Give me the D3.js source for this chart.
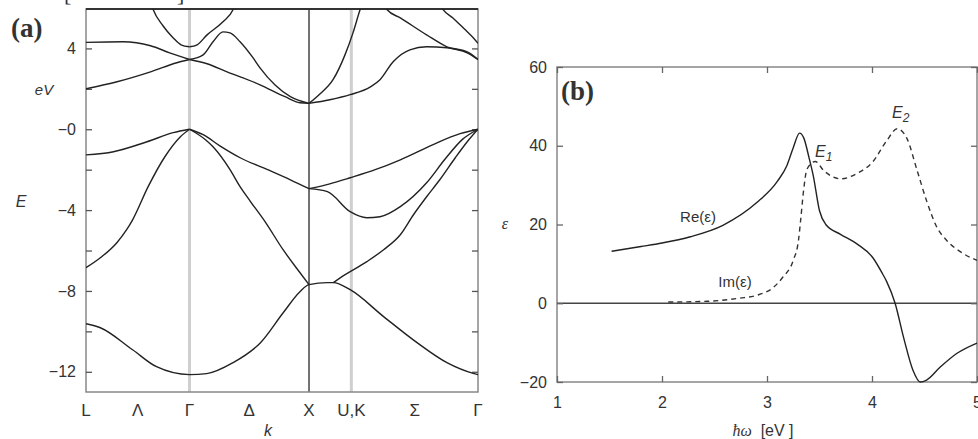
<!DOCTYPE html>
<html>
<head>
<meta charset="utf-8">
<script src="https://cdn.jsdelivr.net/npm/d3@7"></script>
<style>
  body { margin: 0; background: #fff; }
  text { font-family: "Liberation Sans", Arial, sans-serif; fill: #333; }
</style>
</head>
<body>
<svg id="chart" width="978" height="439"></svg>
<script>
(function(d3) {
  'use strict';

  // ---- panel (a): band structure, k along L-Γ-X-U,K-Γ (units of 2π/a) ----
  var kPoints = [0, 0.866, 1.866, 2.22, 3.28];
  var kLabels = ['L', 'Γ', 'X', 'U,K', 'Γ'];
  var dirLabels = [['Λ', 0, 1], ['Δ', 1, 2], ['Σ', 3, 4]];
  var energyTicks = [4, 2, 0, -2, -4, -6, -8, -10, -12];
  var energyLabels = { '4': '4', '0': '−0', '-4': '−4', '-8': '−8', '-12': '−12' };

  // valence bands
  var bandV1 = [[0, -9.62], [0.12, -9.82], [0.39, -10.91], [0.59, -11.75], [0.866, -12.14],
    [1.01, -12.09], [1.23, -11.55], [1.46, -10.56], [1.65, -9.08], [1.79, -8.04], [1.866, -7.69],
    [2.02, -7.59], [2.07, -7.59], [2.21, -7.94], [2.49, -9.27], [2.77, -10.56], [3.02, -11.55],
    [3.24, -12.08], [3.28, -12.14]];
  var bandV2L = [[0, -6.85], [0.12, -6.36], [0.26, -5.6], [0.34, -4.97], [0.39, -4.48],
    [0.52, -2.84], [0.66, -1.36], [0.79, -0.37], [0.866, 0]];
  var bandV3L = [[0, -1.27], [0.23, -1.11], [0.51, -0.62], [0.73, -0.17], [0.866, 0]];
  var bandV2D = [[0.866, 0], [1.0, -0.52], [1.063, -0.87], [1.205, -2.0], [1.289, -2.84],
    [1.372, -3.54], [1.498, -4.57], [1.649, -5.96], [1.791, -7.1], [1.866, -7.69]];
  var bandV3D = [[0.866, 0], [0.98, -0.27], [1.12, -0.82], [1.29, -1.41], [1.52, -2.0],
    [1.71, -2.5], [1.866, -2.94]];
  var bandV2S = [[2.07, -7.59], [2.13, -7.34], [2.35, -6.55], [2.49, -5.96], [2.63, -5.22],
    [2.74, -4.23], [2.85, -3.34], [2.96, -2.5], [3.09, -1.41], [3.19, -0.62], [3.28, 0]];
  var bandV3S = [[1.866, -2.94], [2.02, -3.09], [2.21, -4.08], [2.35, -4.38], [2.46, -4.33],
    [2.63, -3.83], [2.85, -2.65], [3.0, -1.51], [3.15, -0.5], [3.28, 0]];
  var bandV4S = [[1.866, -2.94], [2.04, -2.7], [2.21, -2.4], [2.42, -2.0], [2.63, -1.51],
    [2.9, -0.77], [3.13, -0.22], [3.28, 0]];

  // conduction bands
  var bandC1L = [[0, 2.0], [0.26, 2.35], [0.54, 2.84], [0.76, 3.29], [0.866, 3.45]];
  var bandC2L = [[0, 4.3], [0.31, 4.33], [0.54, 4.13], [0.7, 3.78], [0.866, 3.45]];
  var bandC3L = [[0.54, 6.3], [0.56, 5.95], [0.644, 5.12], [0.728, 4.53], [0.795, 4.18], [0.866, 4.08]];
  var bandC1D = [[0.866, 3.45], [1.013, 3.24], [1.18, 2.84], [1.456, 2.2], [1.665, 1.61],
    [1.79, 1.31], [1.866, 1.28]];
  var bandC2D = [[0.866, 3.45], [0.98, 3.68], [1.063, 4.33], [1.146, 4.82], [1.205, 4.77],
    [1.289, 4.33], [1.397, 3.54], [1.456, 3.04], [1.58, 2.2], [1.71, 1.61], [1.866, 1.28]];
  var bandC3D = [[0.866, 4.08], [0.93, 4.18], [1.013, 4.67], [1.146, 5.32], [1.23, 5.91], [1.25, 6.2]];
  var bandC1S = [[1.866, 1.28], [1.95, 1.71], [2.067, 2.45], [2.167, 3.68], [2.234, 4.77],
    [2.293, 5.91], [2.31, 6.2]];
  var bandC2S = [[1.866, 1.28], [2.04, 1.46], [2.21, 1.71], [2.38, 2.1], [2.46, 2.45],
    [2.57, 3.34], [2.71, 3.93], [2.85, 4.08], [3.02, 4.03], [3.19, 3.83], [3.28, 3.45]];
  var bandC3S = [[2.5, 6.2], [2.52, 5.91], [2.63, 5.51], [2.85, 4.67], [3.02, 4.08],
    [3.19, 3.78], [3.28, 3.45]];
  var bandC4S = [[2.96, 6.2], [2.99, 5.91], [3.07, 5.51], [3.13, 5.17], [3.19, 4.82],
    [3.24, 4.53], [3.28, 4.25]];

  var bands = [bandV1, bandV2L, bandV3L, bandV2D, bandV3D, bandV2S, bandV3S, bandV4S,
    bandC1L, bandC2L, bandC3L, bandC1D, bandC2D, bandC3D, bandC1S, bandC2S, bandC3S, bandC4S];

  // ---- panel (b): dielectric function vs photon energy ----
  var energyTicksB = [1, 2, 3, 4, 5];
  var epsTicks = [60, 40, 20, 0, -20];
  var reEps = [[1.52, 13.2], [1.8, 14.4], [2.0, 15.3], [2.27, 16.9], [2.58, 19.8], [2.9, 25.5],
    [3.1, 31], [3.19, 35], [3.25, 39.5], [3.31, 43.2], [3.35, 42], [3.4, 37], [3.44, 32.5],
    [3.5, 23.5], [3.56, 20], [3.7, 17.5], [3.86, 15], [4.01, 11.5], [4.1, 7.5], [4.14, 5.5],
    [4.22, 0], [4.3, -8.6], [4.39, -17], [4.46, -20], [4.52, -19.5], [4.65, -16.2],
    [4.81, -12.7], [5.0, -10.1]];
  var imEps = [[2.06, 0.3], [2.43, 0.5], [2.74, 1.3], [2.9, 2], [3.06, 4], [3.15, 6.6],
    [3.25, 10.9], [3.3, 16], [3.32, 21], [3.35, 29], [3.38, 34], [3.46, 36], [3.54, 33.7],
    [3.7, 31.6], [3.86, 33], [4.01, 36], [4.14, 41.3], [4.24, 44.3], [4.33, 42], [4.43, 33.7],
    [4.52, 26], [4.62, 19.2], [4.71, 16], [4.87, 12.6], [5.0, 10.9]];

  var svg = d3.select('#chart');
  svg.append('rect').attr('width', 978).attr('height', 439).attr('fill', '#fff');

  // ================= panel (a) =================
  var xA = d3.scaleLinear().domain([0, 3.28]).range([86, 478]);
  var yA = d3.scaleLinear().domain([-13, 5.95]).range([392, 9]);

  var gA = svg.append('g');
  gA.append('clipPath').attr('id', 'clipA')
    .append('rect').attr('x', 86).attr('y', 9).attr('width', 392).attr('height', 383);

  // symmetry-point verticals
  gA.selectAll('line.sym')
    .data(kPoints.slice(1, 4))
    .enter()
    .append('line')
    .attr('x1', function(d) { return xA(d); })
    .attr('x2', function(d) { return xA(d); })
    .attr('y1', yA.range()[0]).attr('y2', yA.range()[1])
    .attr('stroke', function(d, i) { return i === 1 ? '#444' : '#cfcfcf'; })
    .attr('stroke-width', function(d, i) { return i === 1 ? 1.5 : 3; });

  // frame
  gA.append('rect')
    .attr('x', 86).attr('y', 9).attr('width', 392).attr('height', 383)
    .attr('fill', 'none').attr('stroke', '#888').attr('stroke-width', 1.5);
  gA.append('line').attr('x1', 86).attr('x2', 478).attr('y1', 9).attr('y2', 9)
    .attr('stroke', '#333').attr('stroke-width', 2);

  var axA = gA.append('g').attr('transform', 'translate(86,0)')
    .call(d3.axisLeft(yA).tickValues(energyTicks).tickSize(-6).tickPadding(10)
      .tickFormat(function(d) { return energyLabels[String(d)] || ''; }));
  var axA2 = gA.append('g').attr('transform', 'translate(478,0)')
    .call(d3.axisRight(yA).tickValues(energyTicks).tickSize(-6).tickFormat(''));
  [axA, axA2].forEach(function(a) {
    a.select('.domain').remove();
    a.selectAll('.tick line').attr('stroke', '#555').attr('stroke-width', 1.3);
    a.selectAll('text').style('font-size', '16px').attr('fill', '#333');
  });

  var lineA = d3.line()
    .x(function(d) { return xA(d[0]); })
    .y(function(d) { return yA(d[1]); })
    .curve(d3.curveMonotoneX);

  gA.append('g').attr('clip-path', 'url(#clipA)')
    .selectAll('path')
    .data(bands)
    .enter()
    .append('path')
    .attr('d', lineA)
    .attr('fill', 'none')
    .attr('stroke', '#222')
    .attr('stroke-width', 1.4);

  // k-point labels
  gA.selectAll('text.kp')
    .data(kPoints)
    .enter()
    .append('text')
    .attr('x', function(d) { return xA(d); })
    .attr('y', 416)
    .attr('text-anchor', 'middle')
    .style('font-size', '17px')
    .text(function(d, i) { return kLabels[i]; });
  gA.selectAll('text.dir')
    .data(dirLabels)
    .enter()
    .append('text')
    .attr('x', function(d) { return xA((kPoints[d[1]] + kPoints[d[2]]) / 2); })
    .attr('y', 416)
    .attr('text-anchor', 'middle')
    .style('font-size', '17px')
    .text(function(d) { return d[0]; });

  gA.append('text').attr('x', 268).attr('y', 436).attr('text-anchor', 'middle')
    .style('font-size', '16px').style('font-style', 'italic').text('k');
  gA.append('text').attr('x', 44).attr('y', yA(2) + 6).attr('text-anchor', 'middle')
    .style('font-size', '15px').style('font-style', 'italic').text('eV');
  gA.append('text').attr('x', 21).attr('y', 207).attr('text-anchor', 'middle')
    .style('font-size', '16px').style('font-style', 'italic').text('E');
  gA.append('text').attr('x', 11).attr('y', 37)
    .style('font-family', '"Liberation Serif", "Times New Roman", serif')
    .style('font-weight', 'bold').style('font-size', '27px').attr('fill', '#222').text('(a)');

  // cropped red brackets at the very top
  gA.selectAll('text.br')
    .data([['[', 64], [']', 177]])
    .enter()
    .append('text')
    .attr('x', function(d) { return d[1]; })
    .attr('y', 1)
    .style('font-family', '"Liberation Serif", serif')
    .style('font-size', '22px')
    .attr('fill', '#e02020')
    .text(function(d) { return d[0]; });

  // ================= panel (b) =================
  var xB = d3.scaleLinear().domain([1, 5]).range([557, 977]);
  var yB = d3.scaleLinear().domain([-20, 60]).range([382, 67]);

  var gB = svg.append('g');
  gB.append('clipPath').attr('id', 'clipB')
    .append('rect').attr('x', 557).attr('y', 67).attr('width', 421).attr('height', 316);

  gB.append('rect')
    .attr('x', 557).attr('y', 67).attr('width', 420).attr('height', 315)
    .attr('fill', 'none').attr('stroke', '#888').attr('stroke-width', 1.5);
  gB.append('line')
    .attr('x1', xB(1)).attr('x2', xB(5)).attr('y1', yB(0)).attr('y2', yB(0))
    .attr('stroke', '#444').attr('stroke-width', 1.4);

  var axBl = gB.append('g').attr('transform', 'translate(557,0)')
    .call(d3.axisLeft(yB).tickValues(epsTicks).tickSize(-6).tickPadding(10)
      .tickFormat(function(d) { return d < 0 ? '−' + Math.abs(d) : d; }));
  var axBr = gB.append('g').attr('transform', 'translate(977,0)')
    .call(d3.axisRight(yB).tickValues(epsTicks).tickSize(-6).tickFormat(''));
  var axBb = gB.append('g').attr('transform', 'translate(0,382)')
    .call(d3.axisBottom(xB).tickValues(energyTicksB).tickSize(-6).tickPadding(15)
      .tickFormat(d3.format('d')));
  var axBt = gB.append('g').attr('transform', 'translate(0,67)')
    .call(d3.axisTop(xB).tickValues(energyTicksB).tickSize(-6).tickFormat(''));
  [axBl, axBr, axBb, axBt].forEach(function(a) {
    a.select('.domain').remove();
    a.selectAll('.tick line').attr('stroke', '#666').attr('stroke-width', 1.3);
    a.selectAll('text').style('font-size', '16px').attr('fill', '#333');
  });

  var lineB = d3.line()
    .x(function(d) { return xB(d[0]); })
    .y(function(d) { return yB(d[1]); })
    .curve(d3.curveMonotoneX);

  var plotB = gB.append('g').attr('clip-path', 'url(#clipB)');
  plotB.append('path').datum(reEps)
    .attr('d', lineB).attr('fill', 'none').attr('stroke', '#222').attr('stroke-width', 1.4);
  plotB.append('path').datum(imEps)
    .attr('d', lineB).attr('fill', 'none').attr('stroke', '#333').attr('stroke-width', 1.4)
    .attr('stroke-dasharray', '5,4');

  gB.append('text').attr('x', 698).attr('y', 222).attr('text-anchor', 'middle')
    .style('font-size', '15px').text('Re(ε)');
  gB.append('text').attr('x', 735).attr('y', 287).attr('text-anchor', 'middle')
    .style('font-size', '15px').text('Im(ε)');

  var e1 = gB.append('text').attr('x', 815).attr('y', 157).style('font-size', '16px');
  e1.append('tspan').style('font-style', 'italic').text('E');
  e1.append('tspan').attr('dy', 4).style('font-size', '12px').style('font-style', 'italic').text('1');
  var e2 = gB.append('text').attr('x', 892).attr('y', 118).style('font-size', '16px');
  e2.append('tspan').style('font-style', 'italic').text('E');
  e2.append('tspan').attr('dy', 4).style('font-size', '12px').style('font-style', 'italic').text('2');

  gB.append('text').attr('x', 505).attr('y', 229).attr('text-anchor', 'middle')
    .style('font-family', '"Liberation Serif", serif').style('font-style', 'italic')
    .style('font-size', '16px').text('ε');

  var xl = gB.append('text').attr('x', 763).attr('y', 436).attr('text-anchor', 'middle')
    .style('font-size', '16px');
  xl.append('tspan').style('font-family', '"Liberation Serif", serif').style('font-style', 'italic')
    .text('ħω');
  xl.append('tspan').text('  [eV ]').attr('xml:space', 'preserve');

  gB.append('text').attr('x', 561).attr('y', 100)
    .style('font-family', '"Liberation Serif", "Times New Roman", serif')
    .style('font-weight', 'bold').style('font-size', '27px').attr('fill', '#222').text('(b)');
})(window.d3);
</script>
</body>
</html>
